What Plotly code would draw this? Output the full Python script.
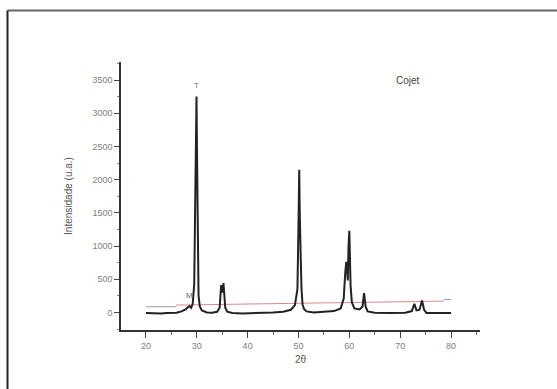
import plotly.graph_objects as go

two_theta = [20.0, 21.0, 22.0, 23.0, 24.0, 25.0, 26.0, 27.0, 27.8, 28.3, 28.6, 28.9, 29.2, 29.5, 29.7, 29.85, 29.95, 30.05, 30.2, 30.35, 30.6, 31.0, 32.0, 33.0, 34.0, 34.5, 34.8, 34.95, 35.1, 35.25, 35.4, 35.6, 36.0, 37.0, 39.0, 41.0, 43.0, 45.0, 47.0, 48.5, 49.3, 49.8, 50.0, 50.15, 50.25, 50.35, 50.45, 50.6, 50.8, 51.1, 51.6, 53.0, 55.0, 57.0, 58.3, 58.9, 59.2, 59.4, 59.55, 59.7, 59.85, 60.0, 60.1, 60.25, 60.5, 61.0, 62.0, 62.6, 62.9, 63.2, 63.6, 65.0, 68.0, 71.0, 72.3, 72.8, 73.2, 73.8, 74.3, 74.7, 75.2, 77.0, 79.0, 80.0]
intensity = [-10, -15, -12, -18, -10, -8, -5, 15, 45, 80, 95, 70, 130, 420, 1600, 2900, 3250, 2400, 900, 250, 90, 30, 0, -5, 10, 70, 410, 320, 300, 440, 200, 70, 10, -10, -15, -12, -10, 0, 10, 40, 110, 350, 1300, 2150, 1500, 900, 820, 350, 120, 50, 15, 0, 5, 20, 60, 210, 600, 760, 650, 480, 1000, 1230, 900, 400, 150, 60, 45, 90, 290, 90, 15, -5, -10, -5, 20, 130, 30, 40, 180, 40, -10, -10, -12, -10]

red_x = [25.9, 78.6]
red_y = [110, 170]
gray_x1 = [20.0, 25.9]
gray_y1 = [85, 85]
gray_x2 = [78.6, 80.0]
gray_y2 = [195, 195]

x_ticks = [20, 30, 40, 50, 60, 70, 80]
y_ticks = [0, 500, 1000, 1500, 2000, 2500, 3000, 3500]

fig = go.Figure()
fig.add_trace(go.Scatter(x=gray_x1, y=gray_y1, mode="lines", line=dict(color="#9a9a9a", width=1), showlegend=False))
fig.add_trace(go.Scatter(x=red_x, y=red_y, mode="lines", line=dict(color="#d98a8f", width=1), showlegend=False))
fig.add_trace(go.Scatter(x=gray_x2, y=gray_y2, mode="lines", line=dict(color="#9a9a9a", width=1), showlegend=False))
fig.add_trace(go.Scatter(x=two_theta, y=intensity, mode="lines", line=dict(color="#222222", width=2), showlegend=False))

fig.add_annotation(x=30.0, y=3420, text="T", showarrow=False, font=dict(size=8, color="#777777", family="Liberation Sans"))
fig.add_annotation(x=28.6, y=260, text="M", showarrow=False, font=dict(size=8, color="#666666", family="Liberation Sans"))
fig.add_annotation(x=71.5, y=3500, text="Cojet", showarrow=False, font=dict(size=10, color="#444444", family="Liberation Sans"))

W, H = 557, 389
L, R, T, B = 121, 77, 62, 59
pw, ph = W - L - R, H - T - B

fig.update_layout(
    width=W, height=H,
    margin=dict(l=L, r=R, t=T, b=B),
    paper_bgcolor="white", plot_bgcolor="white",
    font=dict(family="Liberation Sans", color="#808080", size=9),
    xaxis=dict(range=[15.1, 85.7], tickvals=x_ticks, showgrid=False, zeroline=False,
               showline=True, linecolor="#333333", linewidth=1.5, ticks="outside", ticklen=6,
               tickcolor="#444444", minor=dict(dtick=5, tick0=0, ticks="outside", ticklen=3, tickcolor="#666666"),
               title=dict(text="2θ", font=dict(size=10, color="#555555"), standoff=6)),
    yaxis=dict(range=[-265, 3771], tickvals=y_ticks, showgrid=False, zeroline=False,
               showline=True, linecolor="#333333", linewidth=1.5, ticks="outside", ticklen=5,
               tickcolor="#444444", minor=dict(dtick=250, tick0=0, ticks="outside", ticklen=2, tickcolor="#888888"),
               title=dict(text="Intensidade (u.a.)", font=dict(size=10, color="#555555"), standoff=18)),
)

top_y = (H - B - 10.5) / ph
left_x = (7.5 - L) / pw
fig.add_shape(type="line", xref="paper", yref="paper", x0=left_x, x1=(W - L) / pw, y0=top_y, y1=top_y,
              line=dict(color="#666666", width=2))
fig.add_shape(type="line", xref="paper", yref="paper", x0=left_x, x1=left_x, y0=-B / ph, y1=top_y,
              line=dict(color="#222222", width=2))

fig.write_html("out.html")
